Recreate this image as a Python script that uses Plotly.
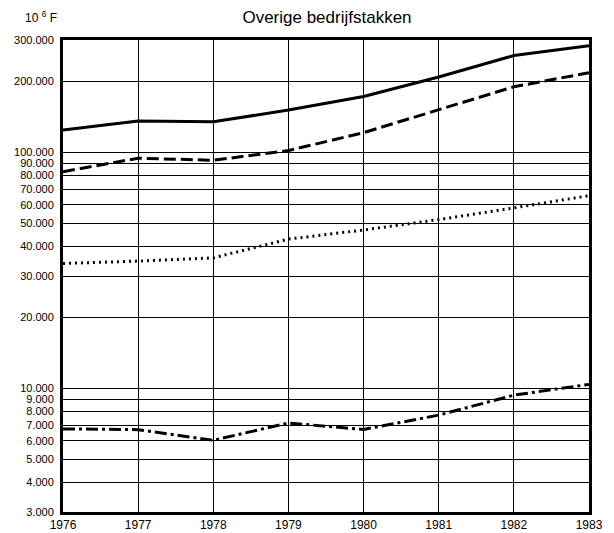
import math
import plotly.graph_objects as go

years = [1976, 1977, 1978, 1979, 1980, 1981, 1982, 1983]
solid_vals = [124700, 136000, 135000, 151500, 173000, 209000, 257700, 284000]
dashed_vals = [83000, 94700, 92800, 102000, 121500, 152500, 190000, 218000]
dotted_vals = [33900, 34700, 35800, 43000, 47000, 52000, 58300, 65700]
dashdot_vals = [6750, 6700, 6040, 7150, 6710, 7720, 9380, 10420]

ytick_vals = [3000, 4000, 5000, 6000, 7000, 8000, 9000, 10000, 20000, 30000, 40000,
              50000, 60000, 70000, 80000, 90000, 100000, 200000, 300000]
ytick_text = ["3.000", "4.000", "5.000", "6.000", "7.000", "8.000", "9.000", "10.000",
              "20.000", "30.000", "40.000", "50.000", "60.000", "70.000", "80.000",
              "90.000", "100.000", "200.000", "300.000"]
xtick_text = [str(y) for y in years]

series = [
    (solid_vals, "solid", 3),
    (dashed_vals, "12px,5px", 3),
    (dotted_vals, "2px,4px", 3),
    (dashdot_vals, "12px,4px,3px,4px", 3),
]

fig = go.Figure()
for vals, dash, w in series:
    fig.add_trace(go.Scatter(x=years, y=vals, mode="lines",
                             line=dict(color="black", width=w, dash=dash),
                             showlegend=False, hoverinfo="skip"))

fam = "Liberation Sans, Arial, sans-serif"

fig.update_layout(
    width=614, height=533,
    margin=dict(l=63, r=25, t=40, b=21, autoexpand=False),
    paper_bgcolor="white", plot_bgcolor="white",
    font=dict(family=fam, color="black", size=11),
    title=dict(text="Overige bedrijfstakken", x=327 / 614, xanchor="center",
               y=1 - 17 / 533, yanchor="middle",
               font=dict(size=17, family=fam, color="black")),
    xaxis=dict(range=[1976, 1983], tickvals=years, ticktext=xtick_text,
               showgrid=True, gridcolor="black", gridwidth=1,
               showline=True, linecolor="black", linewidth=3, mirror=True,
               ticks="", tickfont=dict(size=12, family=fam, color="black"),
               zeroline=False, fixedrange=True),
    yaxis=dict(type="log", range=[math.log10(3000), math.log10(300000)],
               tickvals=ytick_vals, ticktext=ytick_text,
               showgrid=True, gridcolor="black", gridwidth=1,
               showline=True, linecolor="black", linewidth=3, mirror=True,
               ticks="", ticklabelstandoff=4,
               tickfont=dict(size=11, family=fam, color="black"),
               zeroline=False, fixedrange=True),
)
fig.add_annotation(text="10 <sup>6</sup> F", xref="paper", yref="paper",
                   x=(41 - 63) / 526, y=1 + (40 - 17) / 472, xanchor="center", yanchor="middle",
                   showarrow=False, font=dict(size=12, family=fam, color="black"))

fig.write_html("out.html", config={"displayModeBar": False},
               post_script="document.body.style.margin='0';document.body.style.padding='0';")
